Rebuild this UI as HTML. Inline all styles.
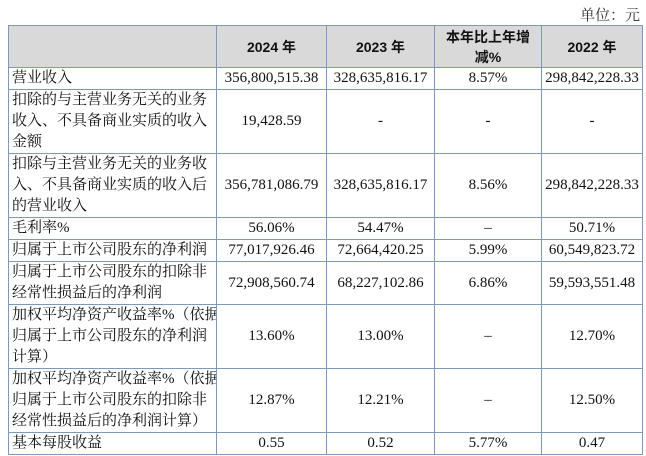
<!DOCTYPE html>
<html><head><meta charset="utf-8"><style>
body{margin:0;width:646px;height:456px;background:#fff;position:relative;overflow:hidden;font-family:"Liberation Serif","Noto Serif CJK SC","Noto Sans CJK SC",serif;color:#111;}
.unit{position:absolute;right:6px;top:4px;font-size:15px;color:#333;}
table{position:absolute;left:8px;top:25px;border-collapse:collapse;table-layout:fixed;width:634px;}
td{border:1px solid #7f99b8;font-size:15px;padding:0 3px;text-align:center;line-height:21px;white-space:nowrap;overflow:hidden;}
td.l{text-align:left;}
tr.h td{background:#d9d9d9;font-family:"Liberation Sans","Noto Sans CJK SC",sans-serif;font-weight:bold;font-size:14px;line-height:20px;}
</style></head><body>
<div class="unit">单位：元</div>
<table>
<colgroup><col style="width:208px"><col style="width:110px"><col style="width:108px"><col style="width:107px"><col style="width:101px"></colgroup>
<tr class="h" style="height:42px"><td></td><td>2024 年</td><td>2023 年</td><td>本年比上年增<br>减%</td><td>2022 年</td></tr>
<tr style="height:22px"><td class="l">营业收入</td><td>356,800,515.38</td><td>328,635,816.17</td><td>8.57%</td><td>298,842,228.33</td></tr>
<tr style="height:63px"><td class="l">扣除的与主营业务无关的业务<br>收入、不具备商业实质的收入<br>金额</td><td>19,428.59</td><td>-</td><td>-</td><td>-</td></tr>
<tr style="height:63px"><td class="l">扣除与主营业务无关的业务收<br>入、不具备商业实质的收入后<br>的营业收入</td><td>356,781,086.79</td><td>328,635,816.17</td><td>8.56%</td><td>298,842,228.33</td></tr>
<tr style="height:21px"><td class="l">毛利率%</td><td>56.06%</td><td>54.47%</td><td>–</td><td>50.71%</td></tr>
<tr style="height:22px"><td class="l">归属于上市公司股东的净利润</td><td>77,017,926.46</td><td>72,664,420.25</td><td>5.99%</td><td>60,549,823.72</td></tr>
<tr style="height:43px"><td class="l">归属于上市公司股东的扣除非<br>经常性损益后的净利润</td><td>72,908,560.74</td><td>68,227,102.86</td><td>6.86%</td><td>59,593,551.48</td></tr>
<tr style="height:62px"><td class="l">加权平均净资产收益率%（依据<br>归属于上市公司股东的净利润<br>计算）</td><td>13.60%</td><td>13.00%</td><td>–</td><td>12.70%</td></tr>
<tr style="height:63px"><td class="l">加权平均净资产收益率%（依据<br>归属于上市公司股东的扣除非<br>经常性损益后的净利润计算）</td><td>12.87%</td><td>12.21%</td><td>–</td><td>12.50%</td></tr>
<tr style="height:21px"><td class="l">基本每股收益</td><td>0.55</td><td>0.52</td><td>5.77%</td><td>0.47</td></tr>
</table>
</body></html>
